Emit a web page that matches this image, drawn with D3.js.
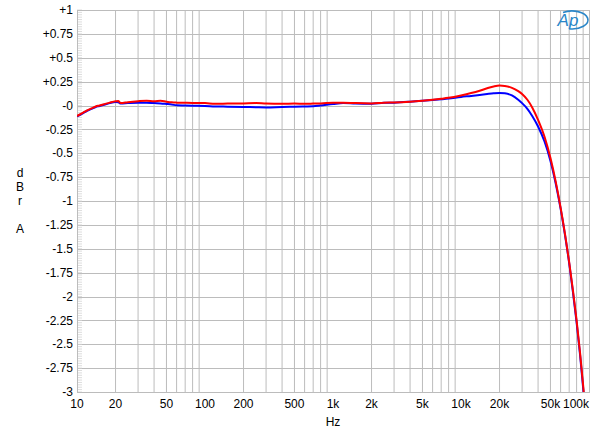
<!doctype html>
<html>
<head>
<meta charset="utf-8">
<style>
    body { margin: 0; background: #fff; }
    svg { font-family: Arial, "Liberation Sans", sans-serif; }
    .tick-label { font-size: 12px; fill: #000; }
</style>
<script src="https://d3js.org/d3.v7.min.js"></script>
</head>
<body>
<svg width="600" height="434"></svg>
<script>
// frequency points (Hz) shared by both channels
var freqs = [10, 11, 12, 13, 14, 15, 16, 18, 20, 21, 22, 25, 30, 35, 40, 45, 50, 55, 60, 70, 80,
    100, 120, 150, 200, 250, 300, 400, 500, 600, 700, 800, 1000, 1200, 1500, 2000, 2500, 3000,
    4000, 5000, 6000, 7000, 8000, 10000, 12000, 14000, 16000, 18000, 20000, 22000, 25000, 28000,
    30000, 33000, 36000, 40000, 45000, 50000, 55000, 60000, 65000, 70000, 75000, 80000, 85000,
    90000, 92000];

var redValues = [-0.11, -0.08, -0.05, -0.03, -0.01, 0.0, 0.01, 0.03, 0.045, 0.048, 0.025, 0.035,
    0.045, 0.05, 0.045, 0.05, 0.04, 0.033, 0.03, 0.028, 0.027,
    0.025, 0.018, 0.02, 0.022, 0.025, 0.02, 0.018, 0.02, 0.018, 0.02, 0.022, 0.028, 0.03, 0.025,
    0.022, 0.03, 0.032, 0.04, 0.05, 0.06, 0.07, 0.08, 0.105, 0.13, 0.155, 0.18, 0.2, 0.21, 0.205,
    0.185, 0.15, 0.12, 0.06, -0.02, -0.15, -0.33, -0.55, -0.8, -1.07, -1.35, -1.64, -1.94,
    -2.25, -2.58, -2.93, -3.08];

var blueValues = [-0.115, -0.085, -0.055, -0.035, -0.015, -0.005, 0.005, 0.025, 0.037, 0.035,
    0.02, 0.025, 0.03, 0.03, 0.025, 0.022, 0.016, 0.01, 0.002, 0.0, -0.002,
    -0.005, -0.01, -0.012, -0.015, -0.018, -0.02, -0.015, -0.012, -0.01, -0.008, 0.0, 0.015,
    0.025, 0.02, 0.018, 0.028, 0.03, 0.04, 0.05, 0.058, 0.065, 0.072, 0.09, 0.1, 0.11, 0.12,
    0.128, 0.132, 0.128, 0.105, 0.06, 0.025, -0.035, -0.11, -0.22, -0.38, -0.58, -0.82, -1.08,
    -1.36, -1.65, -1.96, -2.27, -2.6, -2.96, -3.1];

var xTickValues = [10, 20, 50, 100, 200, 500, 1000, 2000, 5000, 10000, 20000, 50000, 100000];
var xTickLabels = ["10", "20", "50", "100", "200", "500", "1k", "2k", "5k", "10k", "20k", "50k", "100k"];
var yTickValues = [1, 0.75, 0.5, 0.25, 0, -0.25, -0.5, -0.75, -1, -1.25, -1.5, -1.75, -2, -2.25, -2.5, -2.75, -3];
var yTickLabels = ["+1", "+0.75", "+0.5", "+0.25", "-0", "-0.25", "-0.5", "-0.75", "-1", "-1.25",
    "-1.5", "-1.75", "-2", "-2.25", "-2.5", "-2.75", "-3"];

var svg = d3.select("svg"),
    plotLeft = 77, plotRight = 589, plotTop = 10, plotBottom = 392;

var x = d3.scaleLog().domain([10, 100000]).range([plotLeft, plotRight]);
var y = d3.scaleLinear().domain([-3, 1]).range([plotBottom, plotTop]);

// vertical grid: every 1..9 in each decade
var gridFreqs = [];
for (var dec = 10; dec < 100000; dec *= 10) {
    for (var m = 2; m <= 9; m++) gridFreqs.push(dec * m);
}
svg.append("g").selectAll("line")
    .data(gridFreqs)
    .enter().append("line")
    .attr("x1", function(d) { return x(d); })
    .attr("x2", function(d) { return x(d); })
    .attr("y1", plotTop)
    .attr("y2", plotBottom)
    .attr("stroke", "#bcbcbc")
    .attr("stroke-width", 1);

svg.append("g").selectAll("line")
    .data(yTickValues)
    .enter().append("line")
    .attr("x1", plotLeft)
    .attr("x2", plotRight)
    .attr("y1", function(d) { return Math.round(y(d)) + 0.5; })
    .attr("y2", function(d) { return Math.round(y(d)) + 0.5; })
    .attr("stroke", "#bcbcbc")
    .attr("stroke-width", 1);

// small minor ticks along the left edge
var minor = d3.range(-3, 1.0001, 0.025);
svg.append("g").selectAll("line")
    .data(minor)
    .enter().append("line")
    .attr("x1", plotLeft)
    .attr("x2", plotLeft + 5)
    .attr("y1", function(d) { return y(d); })
    .attr("y2", function(d) { return y(d); })
    .attr("stroke", "#d4d4d4")
    .attr("stroke-width", 0.8);

svg.append("rect")
    .attr("x", plotLeft + 0.5)
    .attr("y", plotTop + 0.5)
    .attr("width", plotRight - plotLeft)
    .attr("height", plotBottom - plotTop)
    .attr("fill", "none")
    .attr("stroke", "#bcbcbc");

// tick labels
svg.append("g").selectAll("text")
    .data(yTickValues)
    .enter().append("text")
    .attr("class", "tick-label")
    .attr("x", 73)
    .attr("y", function(d) { return y(d); })
    .attr("dy", "0.35em")
    .attr("text-anchor", "end")
    .text(function(d, i) { return yTickLabels[i]; });

svg.append("g").selectAll("text")
    .data(xTickValues)
    .enter().append("text")
    .attr("class", "tick-label")
    .attr("x", function(d) { return x(d); })
    .attr("y", 408)
    .attr("text-anchor", function(d, i) { return i == xTickValues.length - 1 ? "end" : "middle"; })
    .text(function(d, i) { return xTickLabels[i]; });

svg.append("text")
    .attr("class", "tick-label")
    .attr("x", 333)
    .attr("y", 426)
    .attr("text-anchor", "middle")
    .text("Hz");

// stacked unit letters
var yLabel = [["d", 173], ["B", 187], ["r", 201], ["A", 229]];
svg.append("g").selectAll("text")
    .data(yLabel)
    .enter().append("text")
    .attr("class", "tick-label")
    .attr("x", 20)
    .attr("y", function(d) { return d[1]; })
    .attr("dy", "0.35em")
    .attr("text-anchor", "middle")
    .text(function(d) { return d[0]; });

// curves
svg.append("clipPath").attr("id", "plot-clip")
    .append("rect")
    .attr("x", plotLeft).attr("y", plotTop)
    .attr("width", plotRight - plotLeft).attr("height", plotBottom - plotTop);

var line = d3.line()
    .x(function(d) { return x(d[0]); })
    .y(function(d) { return y(d[1]); })
    .curve(d3.curveMonotoneX);

var curves = svg.append("g").attr("clip-path", "url(#plot-clip)");
curves.append("path")
    .datum(d3.zip(freqs, blueValues))
    .attr("d", line)
    .attr("fill", "none")
    .attr("stroke", "#0000ff")
    .attr("stroke-width", 2);
curves.append("path")
    .datum(d3.zip(freqs, redValues))
    .attr("d", line)
    .attr("fill", "none")
    .attr("stroke", "#ff0000")
    .attr("stroke-width", 2);

// AP logo
var logo = svg.append("g");
logo.append("path")
    .attr("d", "M 563 12.5 A 16 9 0 1 1 569 28.8")
    .attr("fill", "none")
    .attr("stroke", "#2a86c8")
    .attr("stroke-width", 1.6);
logo.append("text")
    .attr("x", 568)
    .attr("y", 26)
    .attr("text-anchor", "middle")
    .attr("font-size", "17px")
    .attr("font-style", "italic")
    .attr("fill", "#2a86c8")
    .text("Ap");
</script>
</body>
</html>
